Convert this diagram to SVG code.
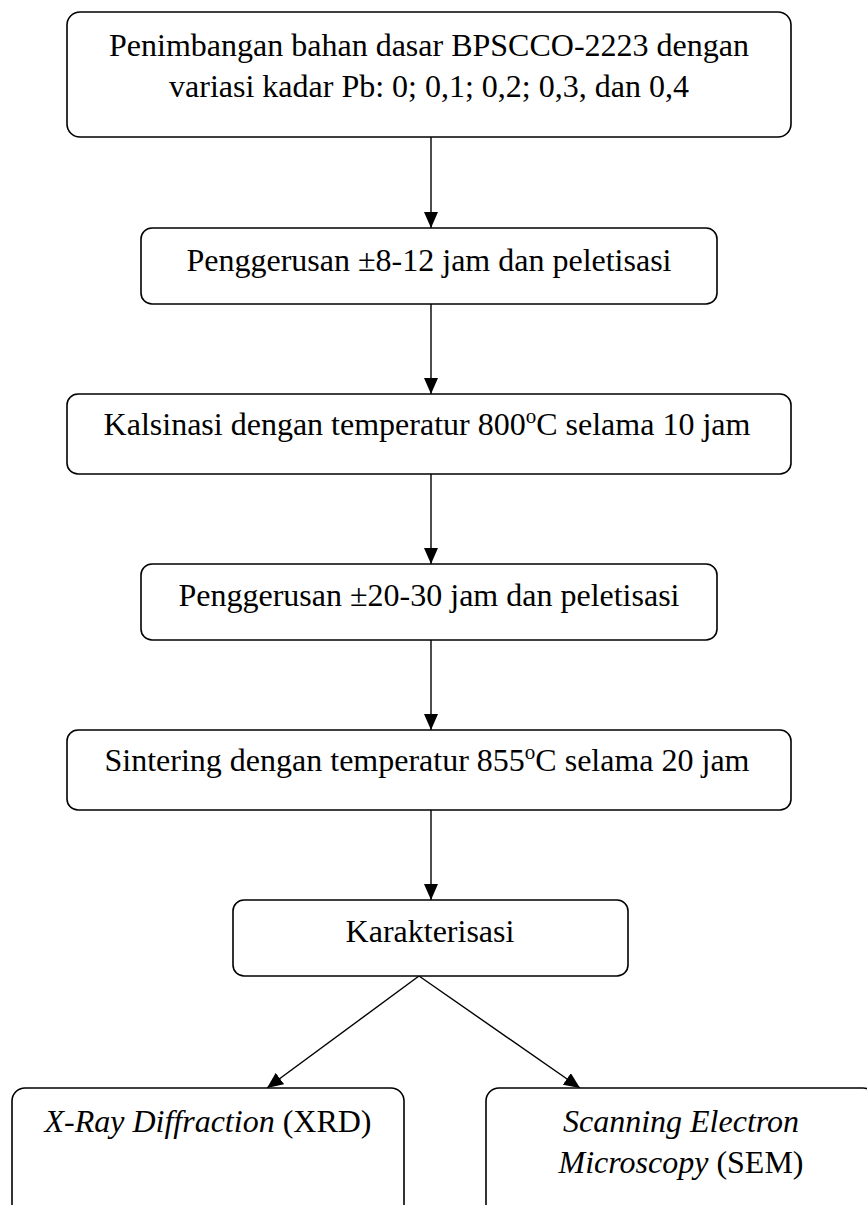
<svg xmlns="http://www.w3.org/2000/svg" width="867" height="1205" viewBox="0 0 867 1205">
<style>
.box{fill:#fff;stroke:#000;stroke-width:1.6}
.t{font-family:"Liberation Serif","Times New Roman",serif;font-size:32px;fill:#000;text-anchor:middle}
.i{font-style:italic}
.sup{font-size:21px}
.c{stroke:#000;stroke-width:1.4;fill:none;marker-end:url(#ah)}
</style>
<defs>
<marker id="ah" markerUnits="userSpaceOnUse" markerWidth="16" markerHeight="14" refX="16" refY="7" orient="auto">
<path d="M0,0 L16,7 L0,14 z" fill="#000"/>
</marker>
</defs>
<rect width="867" height="1205" fill="#fff"/>
<g id="connectors">
<line class="c" x1="431" y1="137" x2="431" y2="228"/>
<line class="c" x1="431" y1="304" x2="431" y2="394"/>
<line class="c" x1="431" y1="474" x2="431" y2="564"/>
<line class="c" x1="431" y1="640" x2="431" y2="730"/>
<line class="c" x1="431" y1="810" x2="431" y2="900"/>
<line class="c" x1="419" y1="976" x2="267" y2="1088"/>
<line class="c" x1="419" y1="976" x2="580" y2="1088"/>
</g>
<g id="n1">
<rect class="box" x="67" y="12" width="724" height="125" rx="13"/>
<text class="t" x="429" y="56">Penimbangan bahan dasar BPSCCO-2223 dengan</text>
<text class="t" x="429" y="97">variasi kadar Pb: 0; 0,1; 0,2; 0,3, dan 0,4</text>
</g>
<g id="n2">
<rect class="box" x="141" y="228" width="576" height="76" rx="11"/>
<text class="t" x="429" y="271">Penggerusan ±8-12 jam dan peletisasi</text>
</g>
<g id="n3">
<rect class="box" x="67" y="394" width="724" height="80" rx="11"/>
<text class="t" x="427" y="435">Kalsinasi dengan temperatur 800<tspan class="sup" dy="-12">o</tspan><tspan dy="12">C selama 10 jam</tspan></text>
</g>
<g id="n4">
<rect class="box" x="141" y="564" width="576" height="76" rx="11"/>
<text class="t" x="429" y="606">Penggerusan ±20-30 jam dan peletisasi</text>
</g>
<g id="n5">
<rect class="box" x="67" y="730" width="724" height="80" rx="11"/>
<text class="t" x="427" y="771">Sintering dengan temperatur 855<tspan class="sup" dy="-12">o</tspan><tspan dy="12">C selama 20 jam</tspan></text>
</g>
<g id="n6">
<rect class="box" x="233" y="900" width="395" height="76" rx="11"/>
<text class="t" x="430" y="942">Karakterisasi</text>
</g>
<g id="n7">
<rect class="box" x="12" y="1088" width="392" height="140" rx="13"/>
<text class="t" x="208" y="1132"><tspan class="i">X-Ray Diffraction</tspan> (XRD)</text>
</g>
<g id="n8">
<rect class="box" x="486" y="1088" width="390" height="140" rx="13"/>
<text class="t i" x="681" y="1132">Scanning Electron</text>
<text class="t" x="681" y="1173"><tspan class="i">Microscopy</tspan> (SEM)</text>
</g>
</svg>
